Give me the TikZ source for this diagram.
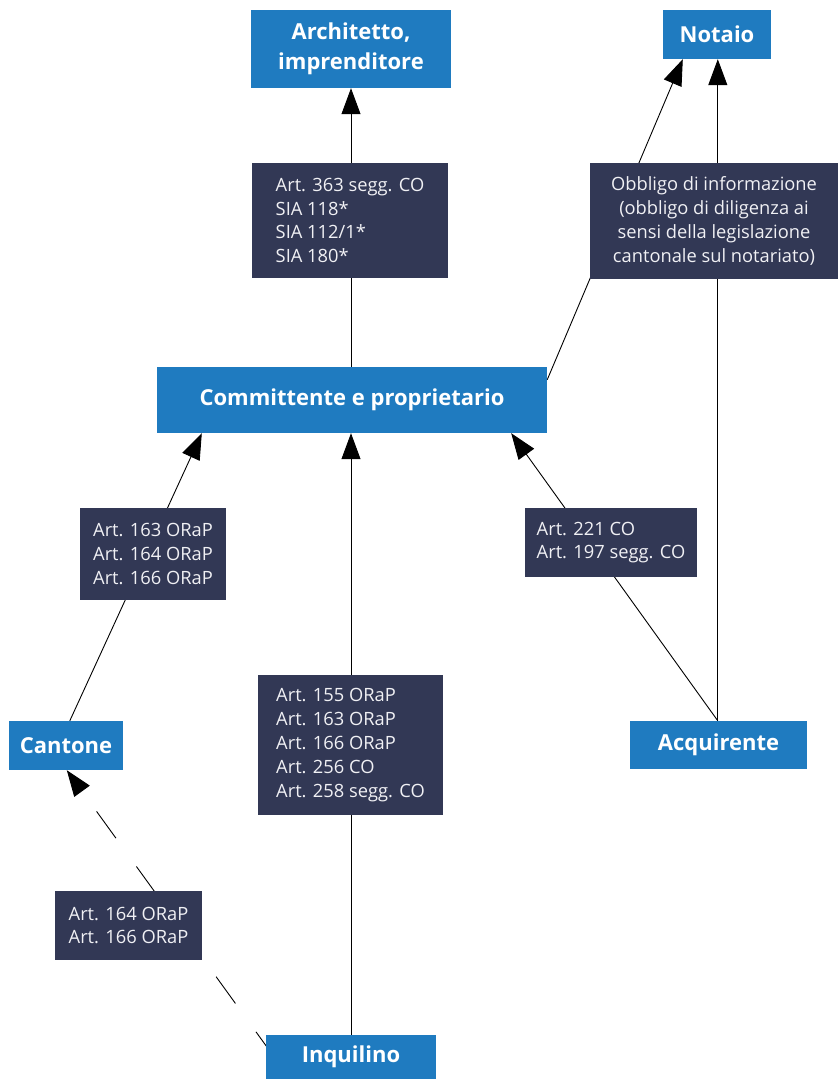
\documentclass[tikz,border=0pt]{standalone}
\usepackage{fontspec}
\setmainfont{Open Sans}
\usetikzlibrary{arrows.meta,backgrounds,calc}
\definecolor{boxblue}{RGB}{31,123,192}
\definecolor{boxdark}{RGB}{50,56,85}
\definecolor{txtlight}{RGB}{240,240,244}
\tikzset{
  party/.style={fill=boxblue, text=white, font=\fontsize{22}{29.5}\selectfont\bfseries, align=center, inner sep=0pt},
  law/.style={fill=boxdark, text=txtlight, font=\fontsize{18.3}{23.8}\selectfont, inner sep=0pt},
  link/.style={line width=0.9pt, draw=black},
  arr/.style={link, -{Triangle[length=26pt,width=19pt]}},
  dasharr/.style={arr, dash pattern=on 33pt off 35pt, dash phase=14.5pt},
}
\begin{document}
\begin{tikzpicture}[x=1pt,y=-1pt]
\useasboundingbox (0,0) rectangle (840,1079);
% parties
\node[party, minimum width=200pt, minimum height=78pt] (arch) at (351,49) {Architetto,\\imprenditore};
\node[party, minimum width=108pt, minimum height=49pt] (notaio) at (717,34.5) {Notaio};
\node[party, minimum width=390pt, minimum height=66pt] (comm) at (352,400) {Committente e proprietario};
\node[party, minimum width=114pt, minimum height=49pt] (cant) at (66,745.5) {Cantone};
\node[party, minimum width=177pt, minimum height=48pt] (acq) at (718.5,745) {Acquirente};
\node[party, minimum width=170pt, minimum height=44pt] (inq) at (351,1057) {Inquilino};
% legal bases
\node[law, minimum width=196pt, minimum height=115pt, align=left] (d363) at (350,220.5) {Art. 363 segg. CO\\SIA 118*\\SIA 112/1*\\SIA 180*};
\node[law, minimum width=248pt, minimum height=116pt, align=center] (dobb) at (714,221) {Obbligo di informazione\\(obbligo di diligenza ai\\sensi della legislazione\\cantonale sul notariato)};
\node[law, minimum width=146pt, minimum height=92pt, align=left] (d163) at (153,554) {Art. 163 ORaP\\Art. 164 ORaP\\Art. 166 ORaP};
\node[law, minimum width=172pt, minimum height=69pt, align=left] (d221) at (611,542.5) {Art. 221 CO\\Art. 197 segg. CO};
\node[law, minimum width=185pt, minimum height=140pt, align=left] (d155) at (350.5,745) {Art. 155 ORaP\\Art. 163 ORaP\\Art. 166 ORaP\\Art. 256 CO\\Art. 258 segg. CO};
\node[law, minimum width=147pt, minimum height=69pt, align=left] (d164) at (128.5,925.5) {Art. 164 ORaP\\Art. 166 ORaP};
% connectors
\begin{scope}[on background layer]
\draw[arr] (arch.south |- comm.north) -- (arch.south);
\draw[arr] ([yshift=-13pt]comm.north east) -- ([xshift=20pt]notaio.south west);
\draw[arr] ([xshift=88pt]acq.north west) -- ([xshift=88pt]acq.north west |- notaio.south);
\draw[arr] ([xshift=61pt]cant.north west) -- ([xshift=45pt]comm.south west);
\draw[arr] (inq.north) -- (inq.north |- comm.south);
\draw[arr] ([xshift=88pt]acq.north west) -- ([xshift=-36pt]comm.south east);
\draw[dasharr] ([xshift=1pt,yshift=-12pt]inq.north west) -- ([xshift=58pt]cant.south west);
\end{scope}
\end{tikzpicture}
\end{document}
